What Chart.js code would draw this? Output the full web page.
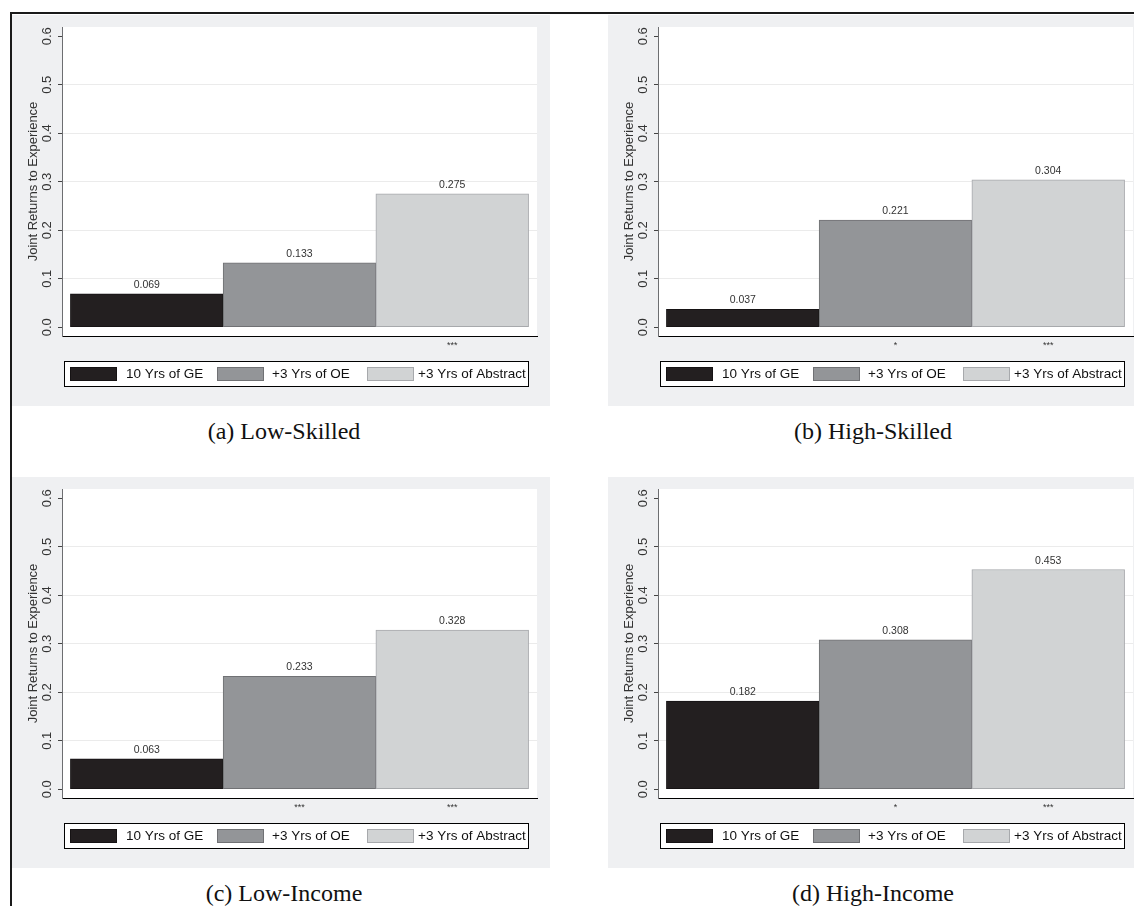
<!DOCTYPE html>
<html>
<head>
<meta charset="utf-8">
<script src="https://cdn.jsdelivr.net/npm/chart.js@4.4.0/dist/chart.umd.min.js"></script>
<style>
    html, body { margin: 0; padding: 0; background: #fff; }
    body { width: 1134px; height: 906px; position: relative; overflow: hidden; }
    .panel { position: absolute; width: 538px; height: 391px; background: #eff0f2; }
    .panel canvas { display: block; }
    .caption {
        position: absolute; width: 400px; text-align: center;
        font-family: 'Liberation Serif', 'Times New Roman', serif;
        font-size: 24px; line-height: 26px; color: #111;
    }
    .frame-left { position: absolute; left: 10px; top: 12px; width: 2px; height: 900px; background: #1a1a1a; }
    .frame-top { position: absolute; left: 10px; top: 12px; width: 1130px; height: 2px; background: #1a1a1a; }
</style>
</head>
<body>
    <div class="panel" style="left: 12px; top: 15px;"><canvas id="chartA" width="538" height="391"></canvas></div>
    <div class="panel" style="left: 608px; top: 15px;"><canvas id="chartB" width="538" height="391"></canvas></div>
    <div class="panel" style="left: 12px; top: 477px;"><canvas id="chartC" width="538" height="391"></canvas></div>
    <div class="panel" style="left: 608px; top: 477px;"><canvas id="chartD" width="538" height="391"></canvas></div>

    <div class="caption" style="left: 84px; top: 418px;">(a) Low-Skilled</div>
    <div class="caption" style="left: 673px; top: 418px;">(b) High-Skilled</div>
    <div class="caption" style="left: 84px; top: 880px;">(c) Low-Income</div>
    <div class="caption" style="left: 673px; top: 880px;">(d) High-Income</div>

    <div class="frame-top"></div>
    <div class="frame-left"></div>

<script>
// Categories (legend entries) and values per panel
const seriesLabels = ['10 Yrs of GE', '+3 Yrs of OE', '+3 Yrs of Abstract'];

const lowSkilled = [0.069, 0.133, 0.275];
const highSkilled = [0.037, 0.221, 0.304];
const lowIncome = [0.063, 0.233, 0.328];
const highIncome = [0.182, 0.308, 0.453];

// Significance marks under the bars
const starsLowSkilled = ['', '', '***'];
const starsHighSkilled = ['', '*', '***'];
const starsLowIncome = ['', '***', '***'];
const starsHighIncome = ['', '*', '***'];

const yTicks = [0, 0.1, 0.2, 0.3, 0.4, 0.5, 0.6];
const yTitle = 'Joint Returns to Experience';

const FONT = "'Liberation Sans', Arial, sans-serif";
const barFill = ['#231f20', '#939598', '#d1d3d4'];
const barEdge = ['#161314', '#707174', '#a7a9ac'];

// white plot region on top of the grey panel
const plotBackground = {
    id: 'plotBackground',
    beforeDraw(chart) {
        const { ctx, chartArea: a } = chart;
        ctx.save();
        ctx.fillStyle = '#ffffff';
        ctx.fillRect(a.left, a.top, a.right - a.left, a.bottom - a.top);
        ctx.restore();
    }
};

// value labels above each bar
const barValues = {
    id: 'barValues',
    afterDatasetsDraw(chart) {
        const ctx = chart.ctx;
        const meta = chart.getDatasetMeta(0);
        const data = chart.data.datasets[0].data;
        ctx.save();
        ctx.font = '10.5px ' + FONT;
        ctx.fillStyle = '#333';
        ctx.textAlign = 'center';
        ctx.textBaseline = 'alphabetic';
        meta.data.forEach((bar, i) => {
            ctx.fillText(data[i].y.toFixed(3), bar.x, bar.y - 6);
        });
        ctx.restore();
    }
};

// Stata-like boxed legend below the plot
const boxLegend = {
    id: 'boxLegend',
    afterDraw(chart) {
        const ctx = chart.ctx;
        const a = chart.chartArea;
        const top = 346, h = 26;
        const left = a.left + 2, right = a.left + 467;
        ctx.save();
        ctx.fillStyle = '#ffffff';
        ctx.fillRect(left, top, right - left, h);
        ctx.strokeStyle = '#000';
        ctx.lineWidth = 1;
        ctx.strokeRect(left + 0.5, top + 0.5, right - left - 1, h - 1);

        const swatchX = [8, 155, 305];
        const textX = [64, 210, 356];
        ctx.font = '13.5px ' + FONT;
        ctx.textBaseline = 'middle';
        ctx.textAlign = 'left';
        seriesLabels.forEach((lab, i) => {
            ctx.fillStyle = barFill[i];
            ctx.fillRect(a.left + swatchX[i], top + 6, 47, 14);
            ctx.strokeStyle = barEdge[i];
            ctx.strokeRect(a.left + swatchX[i] + 0.5, top + 6.5, 46, 13);
            ctx.fillStyle = '#111';
            ctx.fillText(lab, a.left + textX[i], top + h / 2 + 0.5);
        });
        ctx.restore();
    }
};

function makePanel(id, values, stars) {
    const ctx = document.getElementById(id);
    const lastTick = yTicks[yTicks.length - 1];
    return new Chart(ctx, {
        type: 'bar',
        data: {
            datasets: [{
                label: 'Joint returns',
                data: values.map((v, i) => ({ x: i, y: v })),
                backgroundColor: barFill,
                borderColor: barEdge,
                borderWidth: 1,
                borderSkipped: false,
                categoryPercentage: 1,
                barPercentage: 1
            }]
        },
        options: {
            responsive: false,
            animation: false,
            events: [],
            layout: { padding: { left: 0, top: 12, right: 13, bottom: 50 } },
            plugins: {
                legend: { display: false },
                tooltip: { enabled: false }
            },
            scales: {
                x: {
                    type: 'linear',
                    offset: false,
                    min: -0.555,
                    max: 2.555,
                    afterBuildTicks: s => { s.ticks = seriesLabels.map((_, i) => ({ value: i })); },
                    afterFit: s => { s.height = 20; },
                    grid: { display: false, drawTicks: false, offset: false },
                    border: { display: true, color: '#000', width: 1 },
                    ticks: {
                        autoSkip: false,
                        maxRotation: 0,
                        padding: 4,
                        font: { family: FONT, size: 9 },
                        color: '#333',
                        callback: (v, i) => stars[i]
                    }
                },
                y: {
                    min: -0.018,
                    max: 0.619,
                    afterBuildTicks: s => { s.ticks = yTicks.map(v => ({ value: v })); },
                    afterFit: s => { s.width = 50; },
                    border: { display: true, color: '#6d6e71', width: 1 },
                    grid: {
                        // interior gridlines only
                        color: c => (c.tick && (c.tick.value === 0 || c.tick.value === lastTick)) ? 'rgba(0,0,0,0)' : '#ebebeb',
                        tickColor: '#444',
                        tickLength: 4,
                        drawTicks: true
                    },
                    ticks: {
                        minRotation: 90,
                        maxRotation: 90,
                        crossAlign: 'center',
                        padding: 2,
                        font: { family: FONT, size: 13 },
                        color: '#333',
                        callback: v => Number(v).toFixed(1)
                    },
                    title: {
                        display: true,
                        text: yTitle,
                        font: { family: FONT, size: 13 },
                        color: '#333',
                        padding: { top: 14, bottom: 0 }
                    }
                }
            }
        },
        plugins: [plotBackground, barValues, boxLegend]
    });
}

makePanel('chartA', lowSkilled, starsLowSkilled);
makePanel('chartB', highSkilled, starsHighSkilled);
makePanel('chartC', lowIncome, starsLowIncome);
makePanel('chartD', highIncome, starsHighIncome);
</script>
</body>
</html>
